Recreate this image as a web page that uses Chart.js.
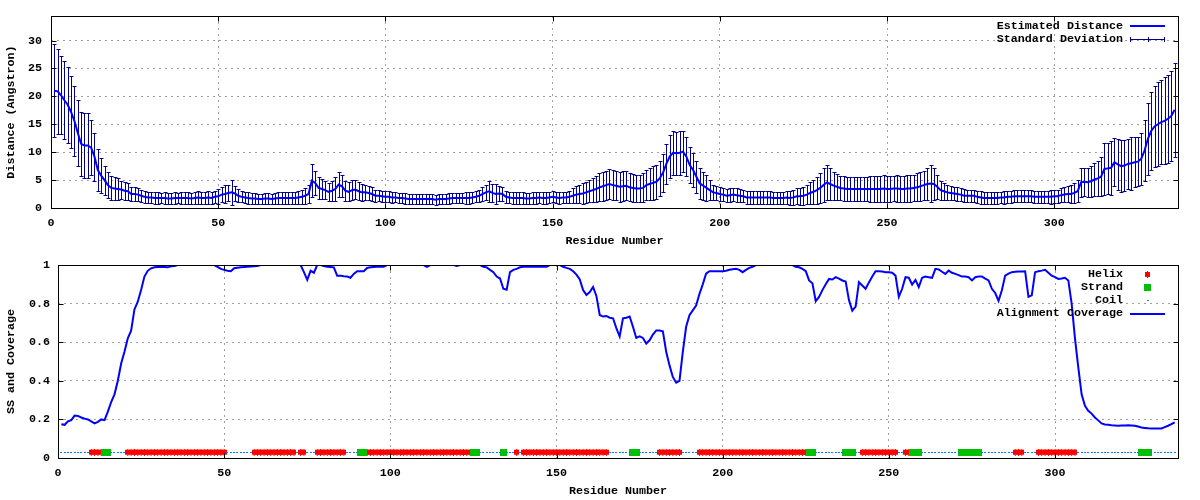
<!DOCTYPE html>
<html>
<head>
<meta charset="utf-8">
<script src="https://cdn.jsdelivr.net/npm/chart.js@4.4.0/dist/chart.umd.min.js"></script>
<style>
  html, body { margin: 0; padding: 0; background: #fff; }
  #wrap { position: relative; width: 1200px; height: 500px; }
  canvas { position: absolute; left: 0; }
</style>
</head>
<body>
<div id="wrap">
  <canvas id="distChart" width="1200" height="250" style="top:0"></canvas>
  <canvas id="covChart" width="1200" height="250" style="top:250px"></canvas>
</div>
<script>
// residue numbers 1..336
var residues = Array.from({length: 336}, function(_, i){ return i + 1; });

// estimated distance (Angstrom), one value per residue
var distMean = [
  21.0, 20.9, 20.2, 19.3, 18.5, 17.2, 15.6, 13.5, 11.5, 11.2,
  11.2, 10.8, 9.2, 6.8, 5.8, 5.0, 4.1, 3.6, 3.5, 3.4,
  3.3, 3.1, 3.0, 2.5, 2.5, 2.4, 2.2, 2.0, 1.9, 1.9,
  1.8, 1.8, 1.8, 1.8, 1.7, 1.7, 1.8, 1.8, 1.8, 1.8,
  1.8, 1.7, 1.8, 1.9, 1.8, 1.8, 1.9, 1.8, 2.0, 2.1,
  2.4, 2.5, 2.7, 2.8, 2.6, 2.2, 2.0, 1.9, 1.8, 1.7,
  1.7, 1.6, 1.6, 1.7, 1.7, 1.6, 1.7, 1.8, 1.8, 1.8,
  1.8, 1.8, 1.8, 1.9, 2.0, 2.2, 2.5, 4.9, 4.5, 3.6,
  3.4, 3.2, 2.9, 3.1, 3.4, 4.2, 3.9, 3.1, 2.9, 3.2,
  3.3, 3.0, 2.8, 2.8, 2.7, 2.5, 2.2, 2.2, 2.1, 2.0,
  2.0, 1.9, 1.9, 1.8, 1.8, 1.7, 1.6, 1.6, 1.6, 1.6,
  1.6, 1.6, 1.6, 1.6, 1.5, 1.6, 1.6, 1.6, 1.7, 1.8,
  1.8, 1.8, 1.8, 1.8, 1.8, 1.9, 2.0, 2.2, 2.5, 2.8,
  3.0, 2.7, 2.5, 2.6, 2.5, 2.0, 1.9, 1.8, 1.8, 1.8,
  1.8, 1.7, 1.7, 1.8, 1.8, 1.9, 1.8, 1.8, 1.9, 2.0,
  1.9, 1.8, 1.9, 1.9, 2.0, 2.2, 2.4, 2.5, 2.6, 2.8,
  3.0, 3.2, 3.4, 3.7, 3.9, 4.1, 4.3, 4.1, 4.0, 3.8,
  3.9, 4.0, 3.7, 3.6, 3.5, 3.5, 3.6, 4.1, 4.3, 4.5,
  4.7, 5.3, 6.3, 7.9, 9.2, 9.9, 9.8, 9.9, 10.1, 9.2,
  7.7, 6.8, 5.6, 4.4, 4.0, 3.6, 3.2, 2.8, 2.7, 2.5,
  2.4, 2.2, 2.3, 2.4, 2.3, 2.2, 2.1, 1.9, 1.9, 1.9,
  1.9, 1.9, 1.9, 1.9, 1.9, 1.8, 1.8, 1.8, 1.8, 1.9,
  1.8, 1.9, 2.1, 2.1, 2.2, 2.4, 2.7, 2.9, 3.2, 3.6,
  4.1, 4.6, 4.3, 4.0, 3.8, 3.6, 3.5, 3.4, 3.4, 3.4,
  3.4, 3.4, 3.4, 3.4, 3.4, 3.4, 3.4, 3.4, 3.5, 3.4,
  3.4, 3.5, 3.5, 3.4, 3.4, 3.5, 3.5, 3.6, 3.7, 3.9,
  4.1, 4.3, 4.4, 4.3, 3.8, 3.2, 3.0, 2.8, 2.7, 2.6,
  2.5, 2.4, 2.2, 2.2, 2.2, 2.2, 2.0, 1.9, 1.8, 1.8,
  1.8, 1.8, 1.8, 1.9, 1.9, 2.0, 2.0, 2.1, 2.1, 2.1,
  2.1, 2.1, 2.1, 2.0, 2.0, 2.0, 2.0, 2.0, 2.0, 2.1,
  2.1, 2.3, 2.4, 2.5, 2.5, 2.7, 3.0, 4.6, 4.7, 4.6,
  4.8, 5.1, 5.3, 5.6, 7.0, 7.1, 7.2, 8.2, 7.8, 7.5,
  7.6, 7.9, 8.0, 8.2, 8.3, 8.8, 10.3, 12.4, 13.8, 14.6,
  15.0, 15.4, 15.6, 16.0, 16.5, 17.6
];

// standard deviation of the distance
var distSd = [
  8.3, 7.6, 7.0, 7.0, 6.8, 6.5, 6.2, 5.9, 5.7, 5.8,
  5.8, 4.9, 4.3, 3.8, 3.2, 2.6, 2.3, 2.2, 2.0, 1.9,
  1.6, 1.6, 1.5, 1.3, 1.2, 1.2, 1.1, 1.1, 1.0, 1.0,
  1.0, 1.0, 0.9, 1.0, 1.0, 0.9, 1.0, 0.9, 1.0, 1.0,
  1.0, 1.0, 1.0, 1.1, 1.0, 1.0, 1.1, 1.0, 1.1, 1.3,
  1.4, 1.6, 1.5, 2.2, 1.4, 1.2, 1.0, 1.0, 1.0, 0.9,
  0.9, 0.9, 0.9, 0.9, 1.0, 0.9, 1.0, 1.0, 1.0, 1.0,
  1.0, 1.0, 1.1, 1.1, 1.2, 1.4, 1.6, 3.0, 2.2, 2.0,
  1.8, 1.6, 1.6, 1.8, 2.2, 2.3, 2.0, 1.8, 1.7, 1.8,
  1.7, 1.6, 1.5, 1.3, 1.2, 1.2, 1.1, 1.0, 1.0, 1.0,
  1.0, 1.0, 0.9, 0.9, 0.9, 0.9, 0.9, 0.9, 0.9, 0.9,
  0.9, 0.9, 0.9, 0.9, 0.9, 0.9, 0.9, 0.9, 0.9, 0.9,
  0.9, 0.9, 0.9, 1.0, 1.0, 1.0, 1.0, 1.1, 1.2, 1.4,
  1.9, 1.6, 1.8, 1.4, 1.2, 1.1, 1.0, 1.0, 1.0, 1.0,
  1.0, 1.0, 1.0, 1.0, 1.0, 1.0, 1.0, 1.0, 1.0, 1.0,
  1.0, 1.0, 1.0, 1.0, 1.1, 1.3, 1.5, 1.6, 1.8, 1.9,
  2.0, 2.2, 2.4, 2.5, 2.6, 2.6, 2.7, 2.7, 2.6, 2.7,
  2.7, 2.6, 2.5, 2.5, 2.5, 2.5, 2.6, 2.7, 2.8, 3.0,
  3.0, 3.2, 3.4, 3.6, 3.8, 3.9, 3.8, 3.9, 3.7, 3.5,
  3.3, 3.0, 2.9, 2.8, 2.5, 2.3, 1.8, 1.3, 1.3, 1.3,
  1.2, 1.2, 1.2, 1.2, 1.2, 1.2, 1.1, 1.1, 1.1, 1.1,
  1.1, 1.1, 1.1, 1.1, 1.1, 1.1, 1.1, 1.1, 1.1, 1.2,
  1.2, 1.3, 1.4, 1.5, 1.6, 1.7, 1.9, 2.1, 2.4, 2.7,
  3.0, 3.1, 2.9, 2.5, 2.3, 2.2, 2.2, 2.1, 2.2, 2.2,
  2.2, 2.2, 2.2, 2.2, 2.3, 2.3, 2.3, 2.4, 2.4, 2.3,
  2.4, 2.3, 2.4, 2.3, 2.3, 2.4, 2.4, 2.4, 2.5, 2.6,
  2.6, 2.9, 3.3, 2.9, 2.2, 1.7, 1.5, 1.3, 1.3, 1.2,
  1.2, 1.2, 1.2, 1.1, 1.1, 1.1, 1.1, 1.1, 1.0, 1.0,
  1.0, 1.0, 1.0, 1.0, 1.1, 1.1, 1.1, 1.1, 1.1, 1.1,
  1.1, 1.1, 1.1, 1.1, 1.1, 1.1, 1.1, 1.1, 1.2, 1.2,
  1.2, 1.3, 1.4, 1.5, 1.6, 1.8, 2.0, 2.6, 2.5, 2.6,
  2.8, 3.0, 3.2, 3.5, 4.6, 4.6, 4.8, 4.3, 4.5, 4.6,
  4.6, 4.5, 4.7, 4.5, 4.4, 4.6, 5.5, 6.4, 7.0, 7.3,
  7.5, 7.6, 7.8, 7.9, 8.1, 8.4
];

// alignment coverage per residue
var coverage = [
  0.175, 0.172, 0.19, 0.196, 0.22, 0.218, 0.21, 0.204, 0.2, 0.19,
  0.179, 0.187, 0.2, 0.196, 0.24, 0.29, 0.33, 0.4, 0.49, 0.55,
  0.62, 0.66, 0.77, 0.81, 0.87, 0.94, 0.97, 0.983, 0.988, 0.99,
  0.991, 0.99, 0.988, 0.993, 0.995, 1, 1, 1, 1, 1,
  1, 1, 1, 1, 1, 1, 1, 0.99, 0.98, 0.975,
  0.97, 0.968, 0.983, 0.986, 0.988, 0.99, 0.991, 0.992, 0.993, 0.995,
  1, 1, 1, 1, 1, 1, 1, 1, 1, 1,
  1, 1, 1, 0.963, 0.923, 0.97, 0.96, 1, 1, 0.995,
  0.991, 0.99, 0.988, 0.945, 0.945, 0.942, 0.94, 0.934, 0.954, 0.968,
  0.968, 0.968, 0.985, 0.988, 0.99, 0.991, 0.991, 0.991, 1, 1,
  1, 1, 1, 1, 1, 1, 1, 1, 1, 1,
  0.991, 1, 1, 1, 1, 1, 1, 1, 1, 0.995,
  1, 1, 1, 1, 1, 1, 1, 0.991, 0.988, 0.975,
  0.963, 0.94, 0.93, 0.877, 0.872, 0.963, 0.975, 0.98, 0.988, 0.991,
  0.991, 0.991, 0.991, 0.991, 0.991, 0.991, 0.991, 1, 1, 1,
  1, 0.991, 0.985, 0.98, 0.968, 0.95, 0.925, 0.87, 0.845, 0.86,
  0.886, 0.84, 0.741, 0.733, 0.736, 0.727, 0.724, 0.673, 0.63, 0.724,
  0.727, 0.733, 0.68, 0.622, 0.63, 0.622, 0.593, 0.61, 0.64, 0.661,
  0.661, 0.656, 0.55, 0.48, 0.42, 0.39, 0.4, 0.55, 0.68, 0.74,
  0.765, 0.79, 0.85, 0.9, 0.955, 0.968, 0.968, 0.968, 0.968, 0.968,
  0.97, 0.975, 0.978, 0.98, 0.975, 0.963, 0.975, 0.985, 0.991, 1,
  1, 1, 1, 1, 1, 1, 1, 1, 1, 1,
  1, 0.991, 0.988, 0.98, 0.968, 0.92, 0.905, 0.813, 0.835, 0.87,
  0.9, 0.928, 0.925, 0.937, 0.93, 0.92, 0.915, 0.818, 0.763, 0.784,
  0.911, 0.894, 0.877, 0.91, 0.94, 0.968, 0.968, 0.966, 0.963, 0.962,
  0.96, 0.945, 0.835, 0.877, 0.937, 0.934, 0.899, 0.923, 0.886, 0.934,
  0.94, 0.937, 0.934, 0.98, 0.977, 0.965, 0.954, 0.971, 0.96, 0.954,
  0.948, 0.94, 0.94, 0.937, 0.92, 0.937, 0.94, 0.94, 0.93, 0.92,
  0.877, 0.855, 0.814, 0.869, 0.945, 0.955, 0.963, 0.965, 0.966, 0.967,
  0.968, 0.835, 0.843, 0.963, 0.968, 0.971, 0.975, 0.96, 0.945, 0.937,
  0.928, 0.93, 0.934, 0.92, 0.8, 0.62, 0.47, 0.33, 0.27, 0.245,
  0.23, 0.21, 0.195, 0.179, 0.174, 0.172, 0.17, 0.169, 0.167, 0.168,
  0.169, 0.17, 0.169, 0.167, 0.163, 0.158, 0.156, 0.154, 0.153, 0.153,
  0.153, 0.153, 0.16, 0.167, 0.175, 0.185
];

// secondary structure, as residue ranges [first, last]
var helixSegments = [[10,13],[21,50],[59,71],[73,74],[78,86],[93,124],[138,138],[140,165],
                     [181,187],[193,225],[242,252],[255,256],[288,290],[295,306]];
var strandSegments = [[14,15],[91,92],[125,126],[134,134],[173,174],[226,227],[237,239],
                      [257,259],[272,277],[326,328]];
var ssLevel = 0.03;

var xTicks = [0, 50, 100, 150, 200, 250, 300];

var FONT = "'Liberation Mono', 'DejaVu Sans Mono', monospace";
var FONT_CSS = "bold 11.7px " + FONT;
Chart.defaults.font.family = FONT;
Chart.defaults.font.size = 11.7;
Chart.defaults.font.weight = 'bold';
Chart.defaults.color = '#000';

function inSegments(r, segs){
    for (var i = 0; i < segs.length; i++){
        if (r >= segs[i][0] && r <= segs[i][1]) return true;
    }
    return false;
}

// marker images, gnuplot style
function makeMarker(w, h, draw){
    var c = document.createElement('canvas');
    c.width = w; c.height = h;
    draw(c.getContext('2d'));
    return c;
}
var helixImg = makeMarker(5, 7, function(g){
    g.fillStyle = '#ff0000';
    g.fillRect(0, 1, 5, 5);
    g.fillRect(2, 0, 1, 7);
});
var strandImg = makeMarker(7, 7, function(g){
    g.fillStyle = '#00c000';
    g.fillRect(0, 0, 7, 7);
});
var coilImg = makeMarker(2, 1, function(g){
    g.fillStyle = '#0080ff';
    g.fillRect(0, 0, 2, 1);
});

// black frame with inward ticks on all sides
var framePlugin = {
    id: 'frame',
    afterDatasetsDraw: function(chart){
        var ctx = chart.ctx, a = chart.chartArea;
        var x = chart.scales.x, y = chart.scales.y;
        var L = Math.floor(a.left) + 0.5, R = Math.round(a.right) + 0.5;
        var T = Math.round(a.top) + 0.5, B = Math.round(a.bottom) + 0.5;
        ctx.save();
        ctx.strokeStyle = '#000';
        ctx.lineWidth = 1;
        ctx.beginPath();
        x.ticks.forEach(function(t){
            var px = Math.round(x.getPixelForValue(t.value)) + 0.5;
            ctx.moveTo(px, B); ctx.lineTo(px, B - 5);
            ctx.moveTo(px, T); ctx.lineTo(px, T + 5);
        });
        y.ticks.forEach(function(t){
            var py = Math.round(y.getPixelForValue(t.value)) + 0.5;
            ctx.moveTo(L, py); ctx.lineTo(L + 5, py);
            ctx.moveTo(R, py); ctx.lineTo(R - 5, py);
        });
        ctx.stroke();
        ctx.strokeRect(L, T, R - L, B - T);
        ctx.restore();
    }
};

var errorBarPlugin = {
    id: 'errorBars',
    beforeDatasetsDraw: function(chart){
        var ctx = chart.ctx, a = chart.chartArea;
        var x = chart.scales.x, y = chart.scales.y;
        ctx.save();
        ctx.beginPath();
        ctx.rect(a.left, a.top, a.right - a.left, a.bottom - a.top);
        ctx.clip();
        ctx.strokeStyle = '#00008b';
        ctx.lineWidth = 1;
        ctx.beginPath();
        residues.forEach(function(r, i){
            var px = Math.round(x.getPixelForValue(r)) + 0.5;
            var yt = Math.round(y.getPixelForValue(distMean[i] + distSd[i])) + 0.5;
            var yb = Math.round(y.getPixelForValue(distMean[i] - distSd[i])) + 0.5;
            ctx.moveTo(px, yt); ctx.lineTo(px, yb);
            ctx.moveTo(px - 2, yt); ctx.lineTo(px + 2, yt);
            ctx.moveTo(px - 2, yb); ctx.lineTo(px + 2, yb);
        });
        ctx.stroke();
        ctx.restore();
    }
};

function legendText(ctx, text, y){
    ctx.font = FONT_CSS;
    ctx.fillStyle = '#000';
    ctx.textAlign = 'right';
    ctx.textBaseline = 'middle';
    ctx.fillText(text, 1123, y);
}

var distLegend = {
    id: 'distLegend',
    afterDraw: function(chart){
        var ctx = chart.ctx;
        ctx.save();
        legendText(ctx, 'Estimated Distance', 26);
        legendText(ctx, 'Standard Deviation', 39);
        ctx.strokeStyle = '#0000ff';
        ctx.lineWidth = 2;
        ctx.beginPath(); ctx.moveTo(1130, 26); ctx.lineTo(1165, 26); ctx.stroke();
        ctx.strokeStyle = '#00008b';
        ctx.lineWidth = 1;
        ctx.beginPath();
        ctx.moveTo(1130, 39.5); ctx.lineTo(1165, 39.5);
        ctx.moveTo(1130.5, 37); ctx.lineTo(1130.5, 42);
        ctx.moveTo(1164.5, 37); ctx.lineTo(1164.5, 42);
        ctx.moveTo(1148.5, 37); ctx.lineTo(1148.5, 42);
        ctx.stroke();
        ctx.restore();
    }
};

var covLegend = {
    id: 'covLegend',
    afterDraw: function(chart){
        var ctx = chart.ctx;
        ctx.save();
        legendText(ctx, 'Helix', 24);
        legendText(ctx, 'Strand', 37);
        legendText(ctx, 'Coil', 50);
        legendText(ctx, 'Alignment Coverage', 63.5);
        ctx.drawImage(helixImg, 1145, 21);
        ctx.drawImage(strandImg, 1144, 34);
        ctx.drawImage(coilImg, 1147, 50);
        ctx.strokeStyle = '#0000ff';
        ctx.lineWidth = 2;
        ctx.beginPath(); ctx.moveTo(1130, 64); ctx.lineTo(1165, 64); ctx.stroke();
        ctx.restore();
    }
};

function gridOpts(){
    return { color: '#a0a0a0', lineWidth: 1, drawTicks: false };
}

// ---- top panel: distance with error bars
new Chart(document.getElementById('distChart'), {
    type: 'scatter',
    data: {
        datasets: [{
            label: 'Estimated Distance',
            data: residues.map(function(r, i){ return {x: r, y: distMean[i]}; }),
            showLine: true,
            borderColor: '#0000ff',
            borderWidth: 2,
            pointRadius: 0,
            tension: 0
        }]
    },
    options: {
        responsive: false,
        animation: false,
        events: [],
        layout: { padding: { left: 0, top: 14, right: 22, bottom: 0 } },
        plugins: { legend: { display: false }, tooltip: { enabled: false } },
        scales: {
            x: {
                type: 'linear', min: 0, max: 337,
                afterFit: function(s){ s.height = 42; },
                afterBuildTicks: function(s){ s.ticks = xTicks.map(function(v){ return {value: v}; }); },
                ticks: { padding: 8, maxRotation: 0, autoSkip: false },
                grid: gridOpts(),
                border: { display: false, dash: [2, 4] },
                title: { display: true, text: 'Residue Number', padding: { top: 0, bottom: 2 } }
            },
            y: {
                min: 0, max: 34.4,
                afterFit: function(s){ s.width = 51; },
                ticks: { stepSize: 5, includeBounds: false, padding: 9 },
                grid: gridOpts(),
                border: { display: false, dash: [2, 4] },
                title: { display: true, text: 'Distance (Angstron)', padding: { top: 4, bottom: 0 } }
            }
        }
    },
    plugins: [errorBarPlugin, framePlugin, distLegend]
});

// ---- bottom panel: secondary structure and coverage
var helixPts = [], strandPts = [], coilPts = [];
residues.forEach(function(r){
    if (inSegments(r, strandSegments)) strandPts.push({x: r, y: ssLevel});
    else if (inSegments(r, helixSegments)) helixPts.push({x: r, y: ssLevel});
    else coilPts.push({x: r, y: ssLevel});
});

new Chart(document.getElementById('covChart'), {
    type: 'scatter',
    data: {
        datasets: [
            { label: 'Alignment Coverage', order: 0,
              data: residues.map(function(r, i){ return {x: r, y: coverage[i]}; }),
              showLine: true, borderColor: '#0000ff', borderWidth: 2, pointRadius: 0 },
            { label: 'Coil', order: 1, data: coilPts, pointStyle: coilImg, pointRadius: 1 },
            { label: 'Strand', order: 2, data: strandPts, pointStyle: strandImg, pointRadius: 3 },
            { label: 'Helix', order: 3, data: helixPts, pointStyle: helixImg, pointRadius: 3 }
        ]
    },
    options: {
        responsive: false,
        animation: false,
        events: [],
        layout: { padding: { left: 0, top: 12, right: 22, bottom: 0 } },
        plugins: { legend: { display: false }, tooltip: { enabled: false } },
        scales: {
            x: {
                type: 'linear', min: 0, max: 337,
                afterFit: function(s){ s.height = 42; },
                afterBuildTicks: function(s){ s.ticks = xTicks.map(function(v){ return {value: v}; }); },
                ticks: { padding: 8, maxRotation: 0, autoSkip: false },
                grid: gridOpts(),
                border: { display: false, dash: [2, 4] },
                title: { display: true, text: 'Residue Number', padding: { top: 0, bottom: 2 } }
            },
            y: {
                min: 0, max: 1,
                afterFit: function(s){ s.width = 58; },
                ticks: {
                    stepSize: 0.2, padding: 8,
                    callback: function(v){ return String(parseFloat(Number(v).toFixed(2))); }
                },
                grid: gridOpts(),
                border: { display: false, dash: [2, 4] },
                title: { display: true, text: 'SS and Coverage', padding: { top: 4, bottom: 0 } }
            }
        }
    },
    plugins: [framePlugin, covLegend]
});
</script>
</body>
</html>
